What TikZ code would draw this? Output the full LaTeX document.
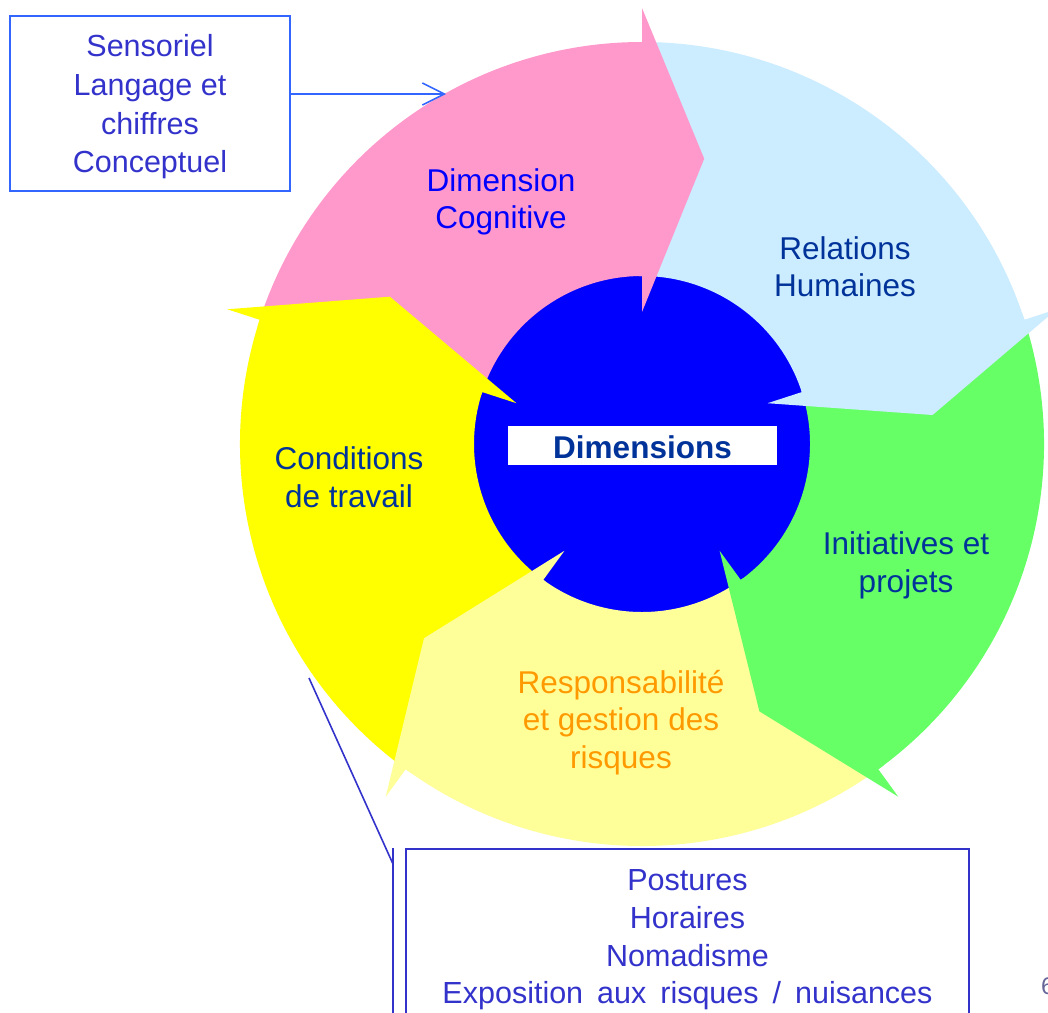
\documentclass[tikz,border=0pt]{standalone}
\usepackage{fontspec}
\setmainfont{Liberation Sans}
\usetikzlibrary{arrows.meta,calc}
\definecolor{cpink}{HTML}{FF99CC}
\definecolor{clblue}{HTML}{CCECFF}
\definecolor{cgreen}{HTML}{66FF66}
\definecolor{clyellow}{HTML}{FFFF99}
\definecolor{cyellow}{HTML}{FFFF00}
\definecolor{ccenter}{HTML}{0000FF}
\definecolor{cdark}{HTML}{003399}
\definecolor{corange}{HTML}{FF9900}
\definecolor{cboxtext}{HTML}{3333CC}
\definecolor{cboxline}{HTML}{3366FF}
\definecolor{cpage}{HTML}{666699}
\begin{document}
\begin{tikzpicture}[x=1pt,y=1pt,
  seglabel/.style={font=\fontsize{31.5}{37.5}\selectfont, align=center, inner sep=0pt},
  boxtext/.style={font=\fontsize{30.5}{38.7}\selectfont, align=center, text=cboxtext},
  topbox/.style={boxtext, draw=cboxline, line width=1.5pt, minimum width=280pt, minimum height=175pt, inner sep=0pt},
  botbox/.style={font=\fontsize{30.5}{37.8}\selectfont, align=center, text=cboxtext, draw=cboxtext, line width=2pt, minimum width=563pt, minimum height=181.4pt, inner sep=0pt},
  arr/.style={draw=cboxline, line width=1.5pt, -{Straight Barb[length=22pt,width=22pt]}},
  accent/.style={draw=cboxtext, line width=2pt},
  leader/.style={draw=cboxtext, line width=1.6pt}
]
\clip (0,0) rectangle (1048,-1012);
\fill[white] (0,0) rectangle (1048,-1012);
\begin{scope}[shift={(642,-444)}]
  \fill[ccenter] (0,0) circle[radius=169pt];
  \foreach \b/\c in {90/cpink,18/clblue,-54/cgreen,-126/clyellow,162/cyellow}{
    \fill[\c] ({\b+72}:402) arc[start angle=\b+72, end angle=\b, radius=402pt]
      -- (\b:168) arc[start angle=\b, end angle=\b+72, radius=168pt] -- cycle;
  }
  \foreach \b/\c in {90/cpink,18/clblue,-54/cgreen,-126/clyellow,162/cyellow}{
    \fill[\c] (\b:436) -- ({\b-12.3}:292) -- (\b:132) -- (\b:168)
      -- ({\b+1}:168) -- ({\b+1}:402) -- (\b:402) -- cycle;
  }
\end{scope}

\node[fill=white, minimum width=269pt, minimum height=39pt, inner sep=0pt,
      text=cdark, font=\fontsize{31.5}{37.5}\selectfont\bfseries,
      text height=25pt, text depth=0pt] (dim) at (642.5,-445.5) {Dimensions};

\node[seglabel, text=ccenter] (cog) at (501,-202.4) {\strut Dimension\\\strut Cognitive};
\node[seglabel, text=cdark] (rel) at (845,-270.5) {\strut Relations\\\strut Humaines};
\node[seglabel, text=cdark] (ini) at (906,-566) {\strut Initiatives et\\\strut projets};
\node[seglabel, text=corange] (resp) at (621,-723) {\strut Responsabilité\\\strut et gestion des\\\strut risques};
\node[seglabel, text=cdark] (cond) at (349,-481) {\strut Conditions\\\strut de travail};

\node[topbox] (boxA) at (150,-103.5) {\rule{0pt}{34pt}Sensoriel\\\strut Langage et\\\strut chiffres\\\strut Conceptuel};
\coordinate (arrTip) at (446,-94);
\draw[arr] (boxA.east |- arrTip) -- (arrTip);

\node[botbox] (boxB) at (687.5,-939.7) {\strut Postures\\\strut Horaires\\\strut Nomadisme\\\strut Exposition\hspace{14pt}aux\hspace{14pt}risques\hspace{14pt}/\hspace{14pt}nuisances};
\draw[accent] ($(boxB.north west)+(-12,0)$) -- ($(boxB.south west)+(-12,0)$);
\coordinate (leadEnd) at (309,-678);
\draw[leader] ($(boxB.north west)+(-12,-16)$) -- (leadEnd);

\node[anchor=west, inner sep=0pt, text=cpage, font=\fontsize{24}{24}\selectfont] (pnum) at (1041,-986.5) {6};
\end{tikzpicture}
\end{document}
